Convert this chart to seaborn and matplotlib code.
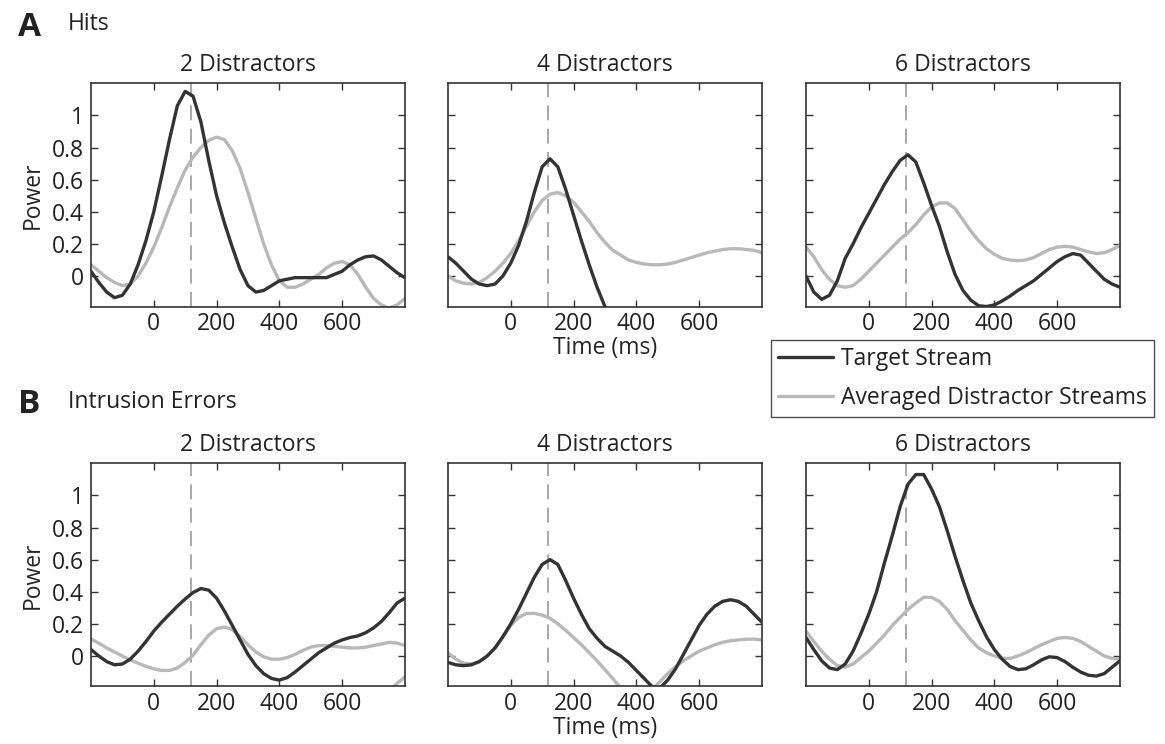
import numpy as np
import matplotlib
matplotlib.use("Agg")
import matplotlib.pyplot as plt
import seaborn as sns
from matplotlib.lines import Line2D

# time axis (ms), 25 ms steps
time_ms = np.arange(-200, 801, 25)

# A - Hits
a2_target = [0.03, -0.04, -0.10, -0.135, -0.12, -0.05, 0.07, 0.22, 0.40, 0.62, 0.85, 1.06, 1.15, 1.12,
             0.96, 0.72, 0.50, 0.33, 0.18, 0.04, -0.06, -0.10, -0.09, -0.06, -0.03, -0.02, -0.01, -0.01,
             -0.01, -0.01, -0.01, 0.01, 0.03, 0.07, 0.10, 0.12, 0.125, 0.10, 0.06, 0.02, -0.01]
a2_distr = [0.07, 0.03, -0.01, -0.04, -0.06, -0.05, 0.00, 0.08, 0.18, 0.30, 0.43, 0.55, 0.66, 0.74,
            0.80, 0.845, 0.865, 0.85, 0.78, 0.67, 0.52, 0.36, 0.20, 0.07, -0.03, -0.07, -0.07, -0.05,
            -0.02, 0.01, 0.05, 0.08, 0.09, 0.07, 0.01, -0.07, -0.14, -0.18, -0.20, -0.18, -0.14]
a4_target = [0.12, 0.08, 0.03, -0.02, -0.05, -0.06, -0.05, 0.00, 0.08, 0.19, 0.34, 0.52, 0.68, 0.73,
             0.68, 0.54, 0.38, 0.22, 0.07, -0.07, -0.19, -0.30] + [np.nan] * 19
a4_distr = [0.00, -0.03, -0.045, -0.05, -0.04, -0.01, 0.03, 0.08, 0.14, 0.22, 0.31, 0.40, 0.47, 0.51,
            0.52, 0.50, 0.46, 0.40, 0.34, 0.27, 0.21, 0.16, 0.13, 0.10, 0.085, 0.075, 0.07, 0.07,
            0.075, 0.085, 0.10, 0.115, 0.13, 0.145, 0.155, 0.165, 0.17, 0.17, 0.165, 0.16, 0.145]
a6_target = [0.00, -0.10, -0.145, -0.12, -0.03, 0.11, 0.20, 0.30, 0.39, 0.48, 0.57, 0.65, 0.72, 0.755,
             0.71, 0.58, 0.44, 0.31, 0.15, 0.01, -0.09, -0.15, -0.185, -0.19, -0.18, -0.155, -0.125,
             -0.09, -0.06, -0.03, 0.01, 0.05, 0.09, 0.12, 0.14, 0.13, 0.08, 0.03, -0.02, -0.05, -0.07]
a6_distr = [0.18, 0.12, 0.04, -0.02, -0.06, -0.07, -0.06, -0.02, 0.03, 0.08, 0.13, 0.18, 0.23, 0.27,
            0.32, 0.38, 0.43, 0.455, 0.455, 0.42, 0.35, 0.28, 0.22, 0.17, 0.135, 0.11, 0.10, 0.095,
            0.10, 0.115, 0.14, 0.165, 0.18, 0.185, 0.18, 0.165, 0.15, 0.14, 0.145, 0.165, 0.19]

# B - Intrusion errors
b2_target = [0.04, 0.00, -0.035, -0.055, -0.05, -0.02, 0.03, 0.09, 0.155, 0.21, 0.26, 0.31, 0.355, 0.395,
             0.42, 0.41, 0.36, 0.28, 0.19, 0.10, 0.01, -0.06, -0.11, -0.14, -0.15, -0.135, -0.10, -0.06,
             -0.02, 0.02, 0.05, 0.08, 0.10, 0.115, 0.125, 0.145, 0.175, 0.215, 0.27, 0.33, 0.36]
b2_distr = [0.105, 0.08, 0.05, 0.025, 0.00, -0.025, -0.045, -0.065, -0.08, -0.09, -0.09, -0.075, -0.04,
            0.005, 0.07, 0.13, 0.17, 0.18, 0.165, 0.12, 0.07, 0.025, -0.005, -0.02, -0.02, -0.01, 0.01,
            0.035, 0.055, 0.065, 0.065, 0.06, 0.055, 0.05, 0.05, 0.055, 0.065, 0.075, 0.085, 0.08, 0.065]
b2_tail_ms = [750, 775, 800]
b2_tail = [-0.22, -0.17, -0.13]
b4_target = [-0.04, -0.055, -0.06, -0.055, -0.035, 0.00, 0.05, 0.12, 0.20, 0.29, 0.39, 0.49, 0.57, 0.60,
             0.57, 0.47, 0.36, 0.26, 0.17, 0.11, 0.06, 0.03, 0.00, -0.04, -0.09, -0.14, -0.19, -0.20,
             -0.15, -0.08, 0.01, 0.10, 0.19, 0.26, 0.31, 0.34, 0.35, 0.34, 0.31, 0.26, 0.21]
b4_distr = [0.02, -0.02, -0.045, -0.05, -0.035, 0.00, 0.05, 0.12, 0.19, 0.24, 0.265, 0.265, 0.255, 0.235,
            0.20, 0.16, 0.115, 0.07, 0.02, -0.03, -0.085, -0.14, -0.20, -0.25, -0.28, -0.26, -0.21,
            -0.16, -0.11, -0.065, -0.03, 0.00, 0.03, 0.05, 0.07, 0.085, 0.095, 0.10, 0.105, 0.105, 0.10]
b6_target = [0.115, 0.04, -0.03, -0.075, -0.085, -0.05, 0.03, 0.14, 0.26, 0.40, 0.58, 0.75, 0.93, 1.07,
             1.13, 1.13, 1.04, 0.93, 0.78, 0.62, 0.47, 0.33, 0.22, 0.12, 0.04, -0.02, -0.065, -0.085,
             -0.08, -0.055, -0.025, -0.005, -0.01, -0.035, -0.07, -0.10, -0.12, -0.125, -0.11, -0.07, -0.03]
b6_distr = [0.155, 0.09, 0.03, -0.02, -0.06, -0.07, -0.05, -0.01, 0.03, 0.08, 0.13, 0.19, 0.24, 0.29,
            0.33, 0.365, 0.365, 0.34, 0.29, 0.22, 0.16, 0.10, 0.05, 0.02, 0.00, -0.015, -0.015, 0.00,
            0.02, 0.045, 0.07, 0.09, 0.11, 0.115, 0.11, 0.09, 0.06, 0.03, 0.00, -0.015, -0.02]

panel_titles = ["2 Distractors", "4 Distractors", "6 Distractors"]
target_rows = [[a2_target, a4_target, a6_target], [b2_target, b4_target, b6_target]]
distr_rows = [[a2_distr, a4_distr, a6_distr], [b2_distr, b4_distr, b6_distr]]
onset_ms = 120
x_ticks = [0, 200, 400, 600]
y_ticks = [0, 0.2, 0.4, 0.6, 0.8, 1]
y_tick_labels = ["0", "0.2", "0.4", "0.6", "0.8", "1"]

DARK = "#333333"
LIGHT = "#b8b8b8"
FS = 16.5

sns.set_theme(style="white")
plt.rcParams["font.family"] = ["Open Sans", "DejaVu Sans"]
plt.rcParams["text.color"] = "#222222"

fig = plt.figure(figsize=(11.65, 7.44), dpi=100)

lefts = [0.0781, 0.3845, 0.6918]
bottoms = [0.588, 0.0773]
w, h = 0.2695, 0.300

for r in range(2):
    for c in range(3):
        ax = fig.add_axes([lefts[c], bottoms[r], w, h])
        ax.axvline(onset_ms, color="#9a9a9a", lw=1.2, ls=(0, (9, 5)), zorder=1)

        yd = np.array(distr_rows[r][c], dtype=float)
        m = ~np.isnan(yd)
        sns.lineplot(x=time_ms[m], y=yd[m], color=LIGHT, lw=2.4, ax=ax, estimator=None,
                     legend=False, solid_joinstyle="round", solid_capstyle="round")
        if r == 1 and c == 0:
            sns.lineplot(x=b2_tail_ms, y=b2_tail, color=LIGHT, lw=2.4, ax=ax, estimator=None,
                         legend=False, solid_joinstyle="round")

        yt = np.array(target_rows[r][c], dtype=float)
        m = ~np.isnan(yt)
        sns.lineplot(x=time_ms[m], y=yt[m], color=DARK, lw=2.4, ax=ax, estimator=None,
                     legend=False, solid_joinstyle="round", solid_capstyle="round")

        ax.set_xlim(-200, 800)
        ax.set_ylim(-0.19, 1.2)
        ax.set_xticks(x_ticks)
        ax.set_xticklabels([str(t) for t in x_ticks])
        ax.set_yticks(y_ticks)
        if c == 0:
            ax.set_yticklabels(y_tick_labels)
            ax.set_ylabel("Power", fontsize=FS, labelpad=5)
        else:
            ax.set_yticklabels([])
            ax.set_ylabel("")
        if c == 1:
            ax.set_xlabel("Time (ms)", fontsize=FS, labelpad=0)
        else:
            ax.set_xlabel("")
        ax.set_title(panel_titles[c], fontsize=FS, pad=9)
        ax.tick_params(direction="in", length=5, width=1, top=True, right=True,
                       bottom=True, left=True, labelsize=FS, colors="#333333")
        ax.tick_params(axis="x", pad=4)
        ax.tick_params(axis="y", pad=5)
        ax.tick_params(axis="both", labelcolor="#222222")
        for sp in ax.spines.values():
            sp.set_color("#333333")
            sp.set_linewidth(1.2)

fig.text(18 / 1165, 1 - 36 / 744, "A", fontsize=24, fontweight="bold")
fig.text(68 / 1165, 1 - 30 / 744, "Hits", fontsize=FS)
fig.text(18 / 1165, 1 - 413 / 744, "B", fontsize=24, fontweight="bold")
fig.text(68 / 1165, 1 - 408 / 744, "Intrusion Errors", fontsize=FS)

handles = [Line2D([], [], color=DARK, lw=2.4), Line2D([], [], color=LIGHT, lw=2.4)]
leg = fig.legend(handles, ["Target Stream", "Averaged Distractor Streams"],
                 loc="upper left", bbox_to_anchor=(771 / 1165, 1 - 340 / 744),
                 fontsize=FS, frameon=True, fancybox=False, handlelength=2.4,
                 handletextpad=0.35, borderpad=0.3, labelspacing=0.65, borderaxespad=0)
leg.get_frame().set_edgecolor("#222222")
leg.get_frame().set_linewidth(1.0)

fig.savefig("out.png", dpi=100)
